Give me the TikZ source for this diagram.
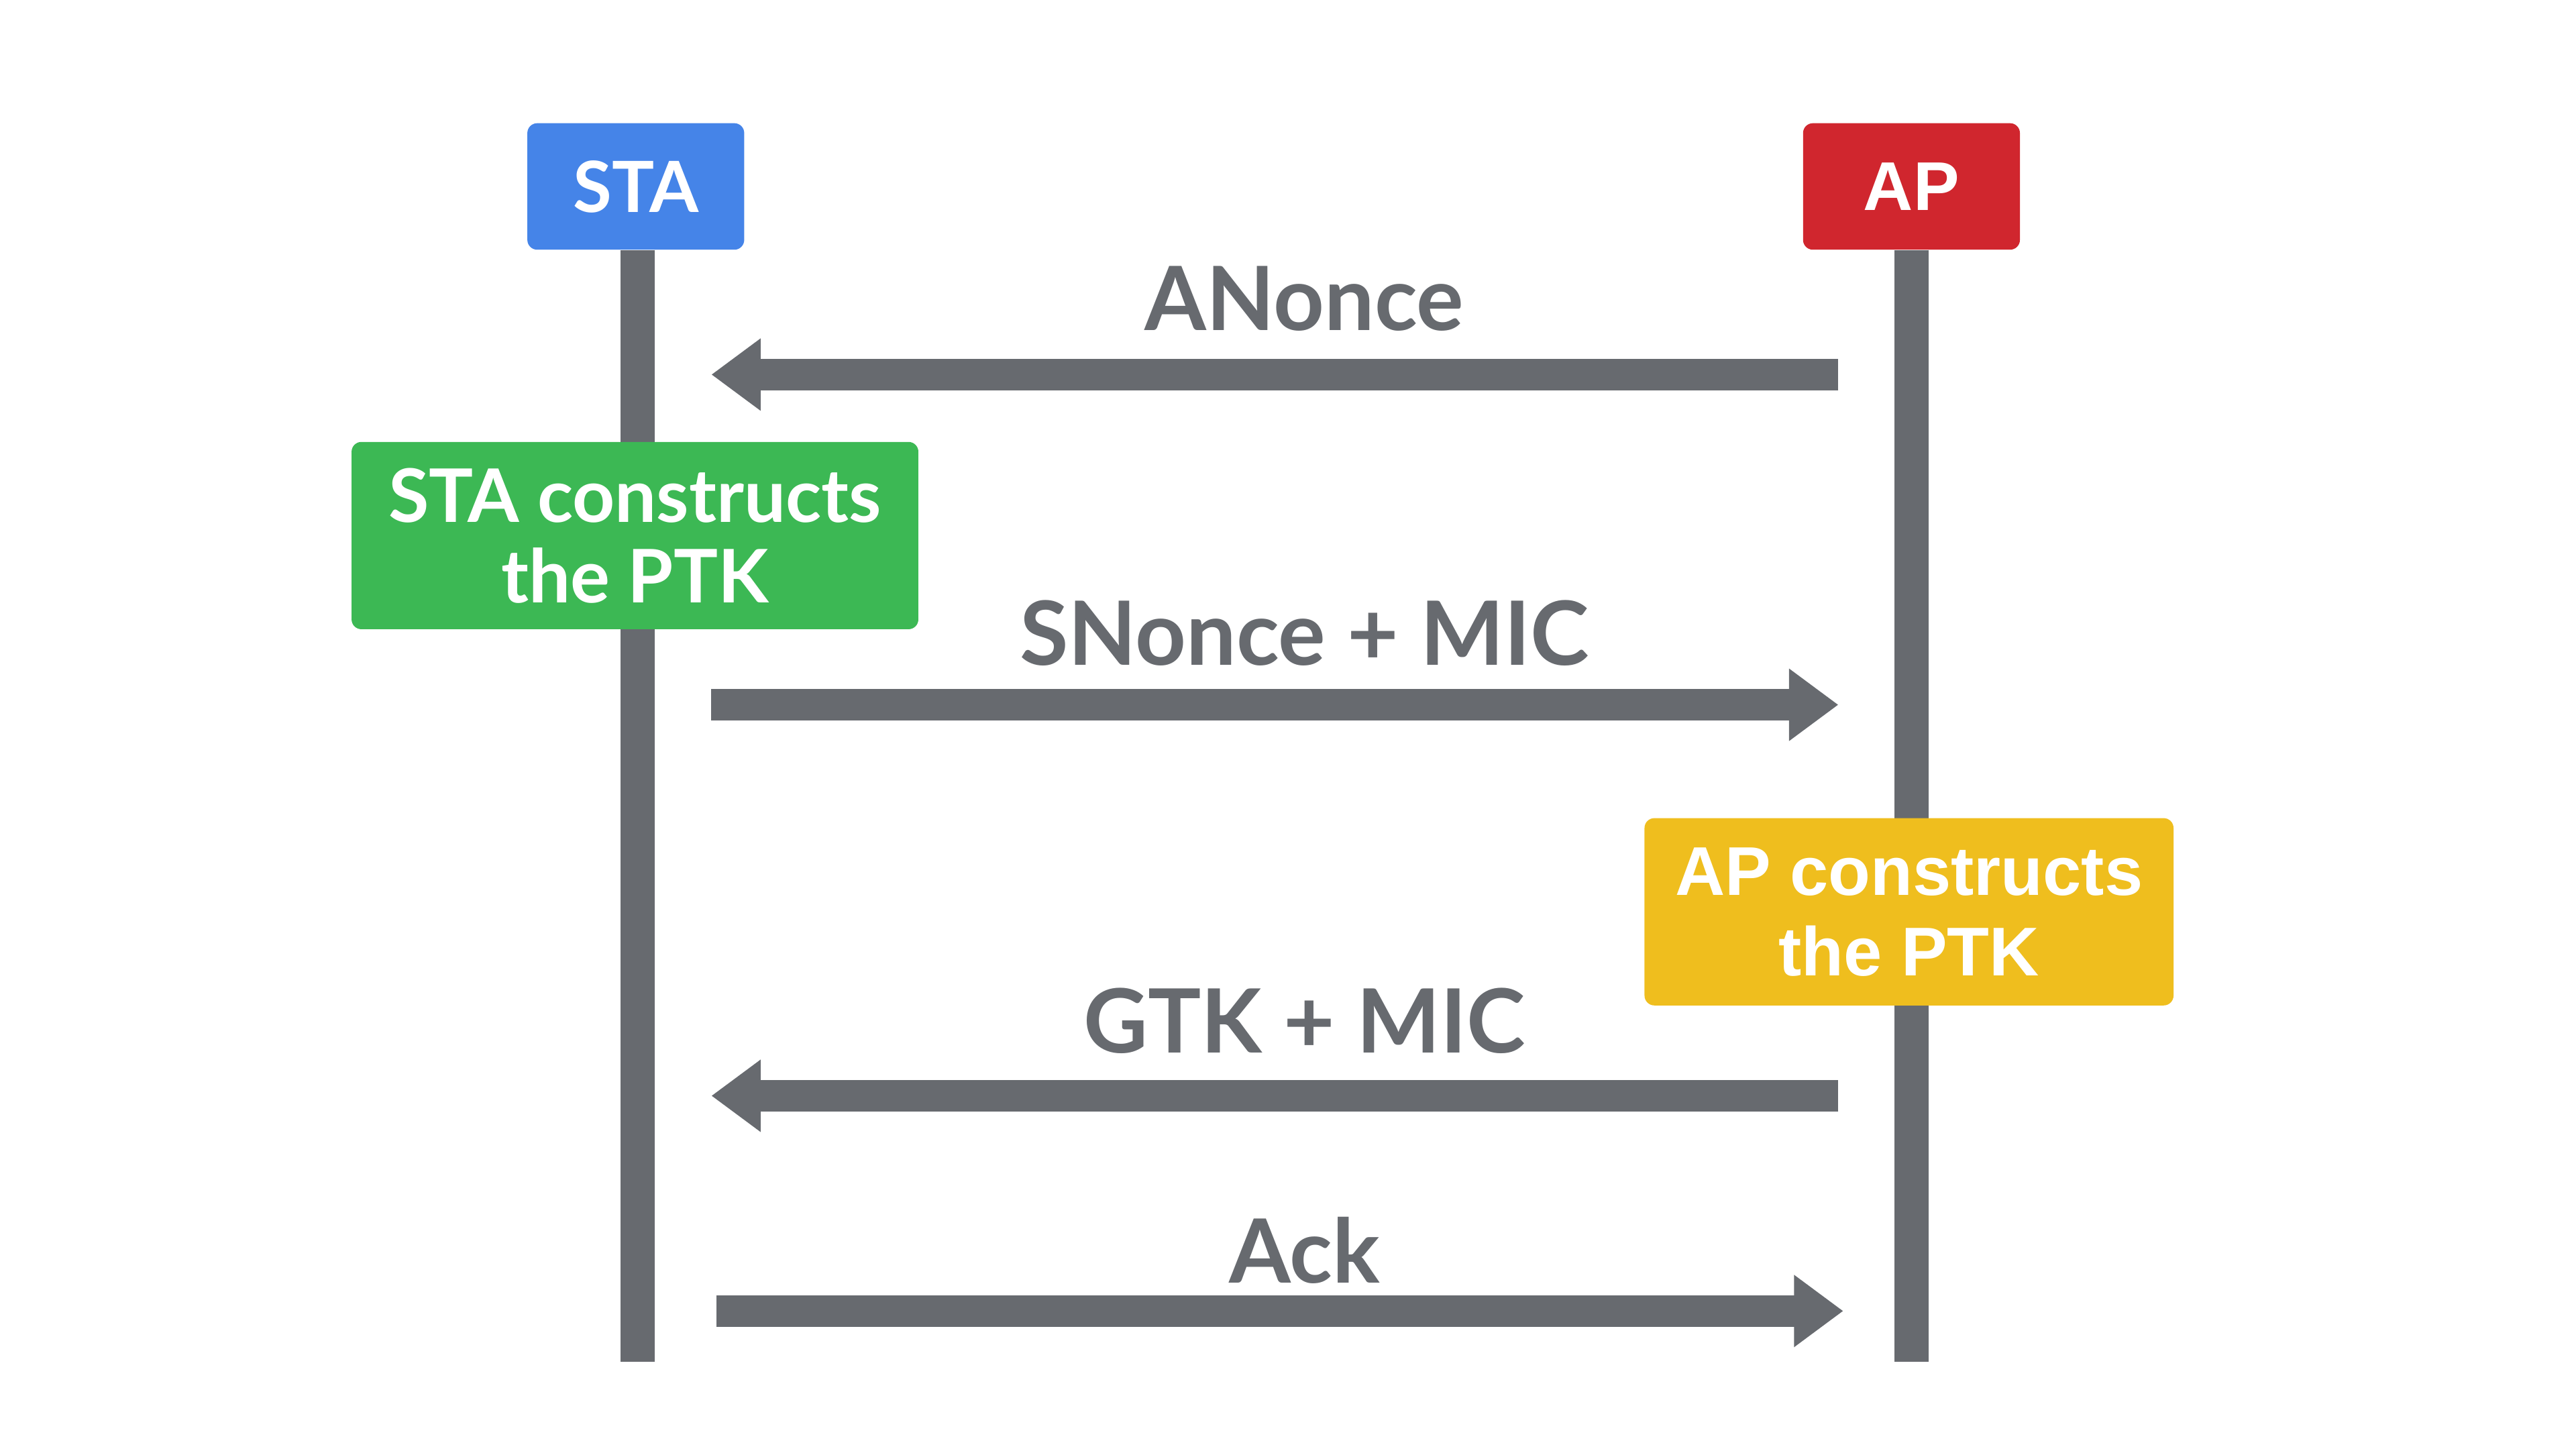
\documentclass[tikz,border=0pt]{standalone}
\usepackage{fontspec}
\setmainfont{Lato}
\newfontfamily\arialfont{Liberation Sans}
\usetikzlibrary{arrows.meta}
\definecolor{lgray}{HTML}{676A6F}
\definecolor{gblue}{HTML}{4584E8}
\definecolor{gred}{HTML}{D0262E}
\definecolor{ggreen}{HTML}{3CB854}
\definecolor{gyellow}{HTML}{EFBE1E}
\tikzset{
  actor/.style={rounded corners=6pt, minimum width=132pt, minimum height=77pt, text=white, inner sep=0pt},
  notebox/.style={rounded corners=6pt, text=white, align=center, inner sep=0pt},
  lifeline/.style={draw=lgray, line width=21pt},
  msg/.style={draw=lgray, line width=19pt, -{Triangle[width=42pt,length=30pt]}},
  msglabel/.style={text=lgray, anchor=base, inner sep=0pt, font=\bfseries\fontsize{54}{60}\selectfont}
}
\begin{document}
\begin{tikzpicture}[x=1pt,y=-1pt]
\useasboundingbox[fill=white] (0,0) rectangle (1568,882);
% actors
\node[actor, fill=gblue, font=\bfseries\fontsize{43}{48}\selectfont] (sta) at (387,113.5) {STA};
\node[actor, fill=gred, font=\arialfont\bfseries\fontsize{42}{48}\selectfont] (ap) at (1163.5,113.5) {AP};
% lifeline ends
\coordinate (staend) at (388,829);
\coordinate (apend) at (1163.5,829);
\draw[lifeline] (sta.south -| staend) -- (staend);
\draw[lifeline] (ap.south -| apend) -- (apend);
% notes
\node[notebox, fill=ggreen, minimum width=345pt, minimum height=114pt,
  font=\bfseries\fontsize{45}{49}\selectfont] (stanote) at (386.5,326) {STA constructs\\the PTK};
\node[notebox, fill=gyellow, minimum width=322pt, minimum height=114pt,
  font=\arialfont\bfseries\fontsize{42}{49}\selectfont] (apnote) at (1162,555) {AP constructs\\the PTK};
% message end points
\coordinate (m1a) at (1119,228); \coordinate (m1b) at (433,228);
\coordinate (m2a) at (433,429);  \coordinate (m2b) at (1119,429);
\coordinate (m3a) at (1119,667); \coordinate (m3b) at (433,667);
\coordinate (m4a) at (436,798);  \coordinate (m4b) at (1122,798);
\draw[msg] (m1a) -- (m1b);
\draw[msg] (m2a) -- (m2b);
\draw[msg] (m3a) -- (m3b);
\draw[msg] (m4a) -- (m4b);
% labels
\node[msglabel] (l1) at (794,201) {ANonce};
\node[msglabel] (l2) at (794,405) {SNonce + MIC};
\node[msglabel] (l3) at (794,641) {GTK + MIC};
\node[msglabel] (l4) at (794,781) {Ack};
\end{tikzpicture}
\end{document}
